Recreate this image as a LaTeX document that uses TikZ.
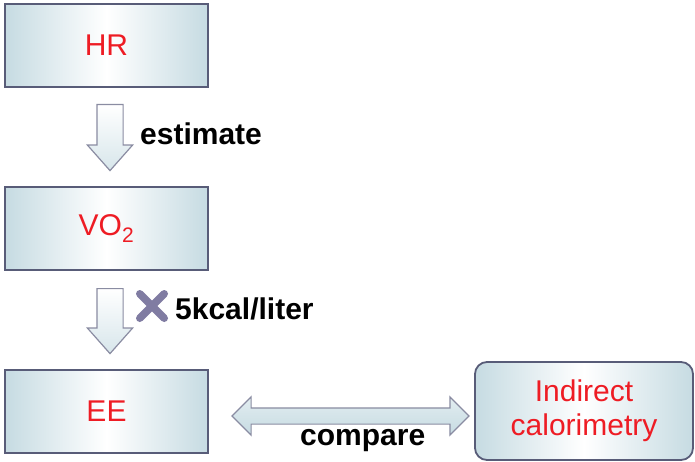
\documentclass[tikz,border=0pt]{standalone}
\usepackage{fontspec}
\setmainfont{Liberation Sans}
\usetikzlibrary{shapes.arrows,shapes.misc,positioning}
\definecolor{edge}{RGB}{88,92,120}
\definecolor{boxtint}{RGB}{198,219,226}
\definecolor{labelred}{RGB}{238,28,36}
\definecolor{arrowedge}{RGB}{138,140,162}
\definecolor{crossgray}{RGB}{128,124,162}

\begin{document}
\begin{tikzpicture}[x=1pt,y=-1pt, %% one unit = one pixel of the sketch
    box/.style={draw=edge, line width=1.8pt, left color=boxtint, right color=boxtint, middle color=white,
        minimum width=203pt, minimum height=83pt, inner sep=0pt, text=labelred, font=\fontsize{30}{34}\selectfont},
    downarrow/.style={single arrow, rotate=-90, anchor=tail, draw=arrowedge, line width=1.2pt, top color=white, bottom color=boxtint!70,
        minimum height=66pt, inner xsep=0pt, inner ysep=12.5pt, single arrow head extend=9.5pt, single arrow tip angle=83},
    note/.style={font=\bfseries\fontsize{30}{34}\selectfont, inner sep=0pt}]
            \useasboundingbox (0,0) rectangle (695,462);

            \node[box] (hr) at (106.5,45.5) {HR};
            \node[box] (vo) at (106.5,228.5) {VO\textsubscript{2}};
            \node[box] (ee) at (106.5,411.5) {EE};
            \node[box, rounded corners=12pt, minimum width=218pt, minimum height=98pt, align=center] (ic) at (584,411) {Indirect\\calorimetry};

            \node[downarrow] (est) at (110,104) {};
            \node[downarrow, minimum height=65pt] (conv) at (110,288) {};

            \node[double arrow, draw=arrowedge, line width=1.2pt, top color=boxtint!50, bottom color=boxtint,
                minimum height=237pt, inner xsep=0pt, inner ysep=7.5pt, double arrow head extend=11pt, double arrow tip angle=90]
                (cmp) at (350.5,416) {};

            \node[cross out, draw=crossgray, line width=7.5pt, line cap=round, minimum size=17pt, inner sep=0pt] (times) at (152,306) {};

            \node[note, anchor=base west] (estlbl) at (140,145) {estimate};
            \node[note, anchor=base west] (convlbl) at (175,319) {5kcal/liter};
            \node[note, anchor=base west] (cmplbl) at (300,445) {compare};
\end{tikzpicture}
\end{document}
